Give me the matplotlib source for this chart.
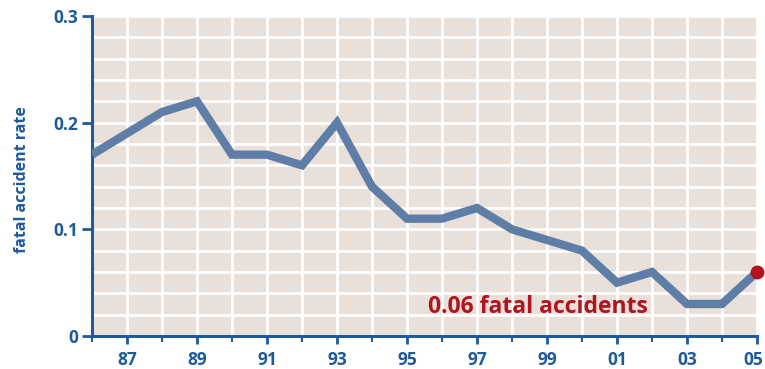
import matplotlib
matplotlib.use("Agg")
import matplotlib.pyplot as plt
from matplotlib.ticker import MultipleLocator, FixedLocator
from matplotlib.transforms import ScaledTranslation

# Fatal accident rate by year
years = list(range(1986, 2006))
rate = [0.17, 0.19, 0.21, 0.22, 0.17, 0.17, 0.16, 0.20, 0.14, 0.11,
        0.11, 0.12, 0.10, 0.09, 0.08, 0.05, 0.06, 0.03, 0.03, 0.06]
xtick_years = list(range(1987, 2006, 2))
xtick_labels = ["87", "89", "91", "93", "95", "97", "99", "01", "03", "05"]
ytick_vals = [0, 0.1, 0.2, 0.3]
ytick_labels = ["0", "0.1", "0.2", "0.3"]
note = "0.06 fatal accidents"

AXIS = "#1f5a9a"
LINE = "#5e7ea8"
RED = "#b3121f"
PANEL = "#e9e1d9"

plt.rcParams["font.family"] = ["Open Sans", "DejaVu Sans"]

fig = plt.figure(figsize=(7.65, 3.69), dpi=100)
ax = fig.add_axes([92 / 765, 1 - 336 / 369, 665 / 765, 320 / 369])
ax.set_facecolor(PANEL)

ax.set_xlim(years[0], years[-1])
ax.set_ylim(0, 0.3)

# white grid every year and every 0.02
ax.xaxis.set_minor_locator(FixedLocator(years))
ax.yaxis.set_minor_locator(MultipleLocator(0.02))
ax.grid(which="both", color="white", linewidth=2.0)
ax.set_axisbelow(True)

ax.plot(years, rate, color=LINE, linewidth=6, solid_joinstyle="miter",
        solid_capstyle="butt", zorder=3)
ax.plot(years[-1], rate[-1], "o", color=RED, markersize=9, clip_on=False, zorder=4)

ax.text(1995.6, 0.027, note, color=RED, fontsize=16.5, fontweight="bold",
        ha="left", va="center", zorder=5)

ax.set_xticks(xtick_years)
ax.set_xticklabels(xtick_labels)
ax.set_yticks(ytick_vals)
ax.set_yticklabels(ytick_labels)

for s in ("top", "right"):
    ax.spines[s].set_visible(False)
for s in ("left", "bottom"):
    ax.spines[s].set_color(AXIS)
    ax.spines[s].set_linewidth(2.2)

ax.tick_params(axis="x", which="major", direction="out", length=6, width=2,
               color=AXIS, labelcolor=AXIS, labelsize=12.5, pad=5)
ax.tick_params(axis="x", which="minor", direction="out", length=4, width=1.5,
               color=AXIS)
ax.tick_params(axis="y", which="major", direction="out", length=7, width=2,
               color=AXIS, labelcolor=AXIS, labelsize=12.5, pad=3)
ax.tick_params(axis="y", which="minor", length=0)
for lbl in ax.get_xticklabels() + ax.get_yticklabels():
    lbl.set_fontweight("bold")

# keep the last year label inside the figure edge
last = ax.get_xticklabels()[-1]
last.set_transform(last.get_transform() + ScaledTranslation(-4 / 100, 0, fig.dpi_scale_trans))

fig.text(22 / 765, 1 - 180 / 369, "fatal accident rate", rotation=90,
         color=AXIS, fontsize=11.5, fontweight="bold", ha="center", va="center")

fig.savefig("out.png", dpi=100)
